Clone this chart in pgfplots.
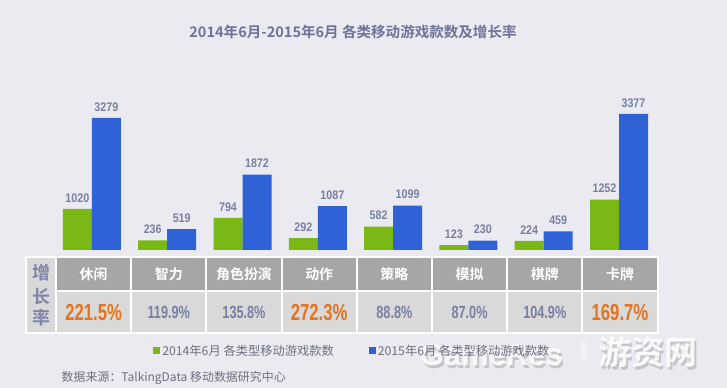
\documentclass[border=0pt]{standalone}
\usepackage{pgfplots}
\pgfplotsset{compat=1.18}
\usepackage{fontspec}
\setmainfont{Noto Sans CJK SC}[BoldFont={Noto Sans CJK SC Bold}]
\newfontfamily\numf{Liberation Sans}
\definecolor{bg}{HTML}{EBEAF0}
\definecolor{g1}{HTML}{7AB816}
\definecolor{b1}{HTML}{2E62D6}
\definecolor{lab}{HTML}{7A7FA2}
\definecolor{ttl}{HTML}{6E739C}
\definecolor{hdr}{HTML}{A6A6A6}
\definecolor{cell}{HTML}{D9D9D9}
\definecolor{org}{HTML}{E6731F}
\definecolor{txt}{HTML}{6D7080}
\definecolor{side}{HTML}{7F84A8}
\begin{document}
\begin{tikzpicture}
\useasboundingbox (0,0) rectangle (727bp,388bp);
\fill[bg] (0,0) rectangle (727bp,388bp);
\begin{scope}[x=1bp,y=-1bp,shift={(0,388bp)}]
\node[font=\bfseries\fontsize{14.6}{14.6}\selectfont, text=ttl] at (353,31.5) {2014年6月-2015年6月 各类移动游戏款数及增长率};
% table
\fill[white] (25,256.5) rectangle (659,334);
\fill[cell] (26.5,258) rectangle (55,332.5);
\foreach \j in {0,...,7} {
  \fill[hdr] ({57+75.2*\j},258) rectangle ({55+75.2*(\j+1)},290.5);
  \fill[cell] ({57+75.2*\j},292.5) rectangle ({55+75.2*(\j+1)},332.5);
}
\foreach \n [count=\j from 0] in {休闲,智力,角色扮演,动作,策略,模拟,棋牌,卡牌}
  \node[text=white, font=\bfseries\fontsize{14}{14}\selectfont] at ({93.6+75.2*\j},274) {\n};
\foreach \v/\c/\s [count=\j from 0] in {221.5/org/23.3,119.9/lab/17.7,135.8/lab/17.7,272.3/org/23.3,88.8/lab/17.7,87.0/lab/17.7,104.9/lab/17.7,169.7/org/23.3}
  \node[text=\c, font=\numf\bfseries\fontsize{\s}{\s}\selectfont] at ({93.6+75.2*\j},312.7) {\scalebox{0.72}[1]{\v\%}};
\node[text=side, font=\bfseries\fontsize{18}{18}\selectfont] at (41.5,272.8) {增};
\node[text=side, font=\bfseries\fontsize{18}{18}\selectfont] at (41.5,296.5) {长};
\node[text=side, font=\bfseries\fontsize{18}{18}\selectfont] at (41.5,318) {率};
% source
\node[text=txt, anchor=west, inner sep=0, font=\fontsize{12}{12}\selectfont] at (61.5,378.3) {数据来源：TalkingData 移动数据研究中心};
% watermark
\begin{scope}[opacity=0.16]
\node[text=black, anchor=base west, inner sep=0, font=\numf\bfseries\fontsize{31}{31}\selectfont] at (422,369) {GameRes};
\node[text=black, inner sep=0, font=\bfseries\fontsize{33}{33}\selectfont] at (650,355) {游资网};
\end{scope}
\begin{scope}[opacity=0.85]
\node[text=white, anchor=base west, inner sep=0, font=\numf\bfseries\fontsize{31}{31}\selectfont] at (420,366) {GameRes};
\node[text=white, inner sep=0, rotate=90, font=\numf\bfseries\fontsize{10}{10}\selectfont] at (584,352) {.com};
\node[text=white, inner sep=0, font=\bfseries\fontsize{33}{33}\selectfont] at (648,352) {游资网};
\end{scope}
\end{scope}
\begin{axis}[
  at={(54.25bp,138bp)}, anchor=south west,
  scale only axis, width=602.4bp, height=145.1bp,
  xmin=-0.5, xmax=7.5, ymin=0, ymax=3600,
  hide axis, clip=false,
  ybar=0pt, bar width=29bp,
  /pgf/number format/1000 sep={},
  /pgf/number format/assume math mode=true,
  nodes near coords={\scalebox{0.86}[1]{\pgfmathprintnumber{\pgfplotspointmeta}}},
  every node near coord/.append style={font=\numf\bfseries\fontsize{12.5}{12.5}\selectfont, text=lab, anchor=south, inner sep=0, yshift=6.5bp},
  legend style={at={(axis description cs:0.1644,-0.694)}, anchor=west, inner sep=0, outer sep=0, draw=none, fill=none,
    font=\fontsize{12.3}{12.3}\selectfont, text=txt, nodes={inner sep=2bp},
    /tikz/every even column/.append style={column sep=33bp}},
  legend columns=2,
  legend image code/.code={\fill[#1] (0bp,-3.5bp) rectangle (7bp,3.5bp);},
]
\addplot[fill=g1, draw=none] coordinates {(0,1020) (1,236) (2,794) (3,292) (4,582) (5,123) (6,224) (7,1252)};
\addplot[fill=b1, draw=none] coordinates {(0,3279) (1,519) (2,1872) (3,1087) (4,1099) (5,230) (6,459) (7,3377)};
\legend{2014年6月 各类型移动游戏款数, 2015年6月 各类型移动游戏款数}
\end{axis}
\end{tikzpicture}
\end{document}
